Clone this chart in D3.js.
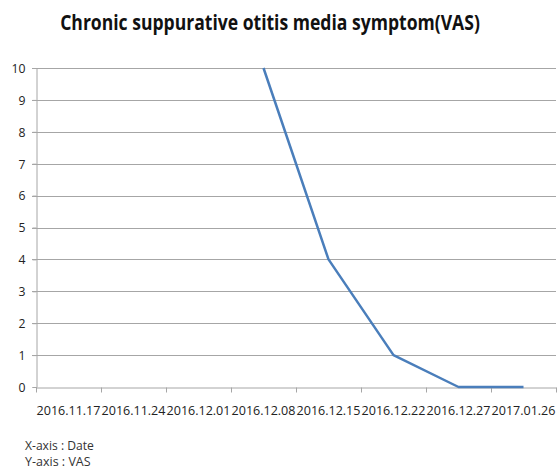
<!DOCTYPE html>
<html><head><meta charset="utf-8">
<script src="https://cdn.jsdelivr.net/npm/d3@7"></script>
<style>body{margin:0;background:#fff}svg{display:block}</style>
</head><body>
<script>
const categories = ["2016.11.17","2016.11.24","2016.12.01","2016.12.08","2016.12.15","2016.12.22","2016.12.27","2017.01.26"];
const vasValues = [null, null, null, 10, 4, 1, 0, 0];
const yTicks = [0,1,2,3,4,5,6,7,8,9,10];
const titleText = "Chronic suppurative otitis media symptom(VAS)";
const notes = ["X-axis : Date", "Y-axis : VAS"];

const W = 559, H = 470;
const m = {left: 36, right: 3, top: 68, bottom: 83};
const svg = d3.select("body").append("svg").attr("width", W).attr("height", H);
const font = "'Open Sans', 'Noto Sans', sans-serif";

const x = d3.scaleBand().domain(categories).range([m.left, W - m.right]).padding(0);
const y = d3.scaleLinear().domain([0, 10]).range([H - m.bottom, m.top]);

// fit a text to a target width by horizontal scaling around its anchor
function squeeze(sel, target) {
  sel.each(function(d, i) {
    const t = d3.select(this);
    const w = this.getComputedTextLength();
    const tw = typeof target === "function" ? target(d, i) : target;
    const s = Math.min(1, tw / w);
    const tx = +t.attr("x") || 0, ty = +t.attr("y") || 0;
    t.attr("transform", `translate(${tx},${ty}) scale(${s},1) translate(${-tx},${-ty})`);
  });
}

svg.append("text").attr("x", 270).attr("y", 30).attr("text-anchor", "middle")
  .attr("font-family", font).attr("font-weight", "bold").attr("font-size", 22)
  .attr("fill", "#111").text(titleText).call(squeeze, 420);

// gridlines
svg.append("g").selectAll("line").data(yTicks.filter(d => d > 0)).join("line")
  .attr("x1", m.left - 4).attr("x2", W - m.right)
  .attr("y1", d => Math.round(y(d)) + 0.5).attr("y2", d => Math.round(y(d)) + 0.5)
  .attr("stroke", "#a6a6a6").attr("stroke-width", 1);

// y axis
const ya = svg.append("g").attr("transform", `translate(${m.left + 0.5},0)`)
  .call(d3.axisLeft(y).tickValues(yTicks).tickSize(4).tickPadding(7));
ya.select(".domain").attr("stroke", "#a6a6a6");
ya.selectAll(".tick line").attr("stroke", "#a6a6a6");
ya.selectAll("text").attr("font-family", font).attr("font-size", 13.5).attr("fill", "#222")
  .call(squeeze, d => d === 10 ? 14 : 7);

// x axis
const xa = svg.append("g").attr("transform", `translate(0,${Math.round(y(0)) + 0.5})`)
  .call(d3.axisBottom(x).tickSize(0).tickPadding(18));
xa.select(".domain").attr("stroke", "#a6a6a6");
xa.selectAll("text").attr("font-family", font).attr("font-size", 13.5).attr("fill", "#222")
  .call(squeeze, 64);
// band boundary ticks
const bounds = categories.map(c => x(c)).concat([x(categories[categories.length-1]) + x.bandwidth()]);
xa.selectAll(".bt").data(bounds).join("line").attr("class","bt")
  .attr("x1", d => Math.round(d) + 0.5).attr("x2", d => Math.round(d) + 0.5)
  .attr("y1", 0).attr("y2", 5).attr("stroke", "#a6a6a6");

// line
const data = categories.map((c, i) => ({c, v: vasValues[i]}));
const line = d3.line().defined(d => d.v !== null)
  .x(d => x(d.c) + x.bandwidth() / 2).y(d => y(d.v));
svg.append("path").datum(data).attr("d", line)
  .attr("fill", "none").attr("stroke", "#4a7ebb").attr("stroke-width", 2.5)
  .attr("stroke-linejoin", "round");

// notes
svg.append("g").selectAll("text").data(notes).join("text")
  .attr("x", 25).attr("y", (d, i) => 450 + i * 16)
  .attr("font-family", font).attr("font-size", 12.5).attr("fill", "#333")
  .text(d => d).call(squeeze, (d, i) => i === 0 ? 69 : 66);
</script>
</body></html>
